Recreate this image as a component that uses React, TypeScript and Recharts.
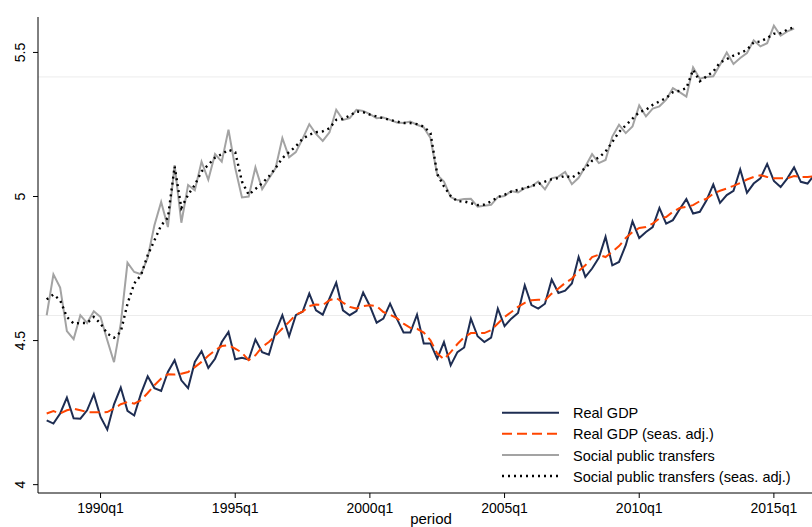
import { Legend, Line, LineChart, ReferenceLine, XAxis, YAxis } from 'recharts';

/* Quarterly log series, 1988q1 onwards. */
const START_YEAR = 1988;

const REAL_GDP = [
  4.223, 4.212, 4.247, 4.302, 4.23, 4.229, 4.258, 4.314, 4.235, 4.191,
  4.279, 4.337, 4.256, 4.24, 4.316, 4.376, 4.335, 4.325, 4.391, 4.432,
  4.362, 4.335, 4.426, 4.463, 4.405, 4.437, 4.495, 4.53, 4.435, 4.44,
  4.434, 4.504, 4.46, 4.451, 4.53, 4.588, 4.515, 4.588, 4.6, 4.663,
  4.605, 4.59, 4.646, 4.701, 4.605, 4.588, 4.602, 4.667, 4.62, 4.562,
  4.576, 4.628, 4.576, 4.528, 4.528, 4.59, 4.49, 4.49, 4.437, 4.495,
  4.414, 4.46, 4.476, 4.576, 4.515, 4.495, 4.51, 4.611, 4.55, 4.576,
  4.596, 4.692, 4.623, 4.611, 4.628, 4.712, 4.665, 4.673, 4.698, 4.79,
  4.721, 4.75, 4.787, 4.86, 4.761, 4.773, 4.831, 4.914, 4.856, 4.877,
  4.894, 4.96, 4.906, 4.918, 4.956, 4.991, 4.941, 4.947, 4.987, 5.042,
  4.978, 5.005, 5.02, 5.094, 5.013, 5.045, 5.063, 5.113, 5.054, 5.033,
  5.063, 5.101, 5.051, 5.045, 5.075,
];

const REAL_GDP_SA = [
  4.247, 4.255, 4.247, 4.258, 4.264, 4.258, 4.252, 4.251, 4.251, 4.252,
  4.264, 4.279, 4.287, 4.281, 4.293, 4.318, 4.345, 4.368, 4.383, 4.382,
  4.385, 4.391, 4.408, 4.426, 4.447, 4.466, 4.481, 4.484, 4.472, 4.458,
  4.432, 4.449, 4.478, 4.495, 4.518, 4.542, 4.565, 4.59, 4.6, 4.62,
  4.625, 4.623, 4.64, 4.648, 4.632, 4.617, 4.611, 4.62, 4.623, 4.62,
  4.599, 4.59, 4.578, 4.559, 4.544, 4.541, 4.528, 4.501, 4.455, 4.435,
  4.46, 4.488, 4.512, 4.526, 4.526, 4.526, 4.536, 4.559, 4.582, 4.599,
  4.617, 4.631, 4.64, 4.642, 4.64, 4.663, 4.681, 4.7, 4.715, 4.741,
  4.761, 4.79, 4.798, 4.79, 4.808, 4.828, 4.856, 4.877, 4.891, 4.894,
  4.906, 4.924, 4.929, 4.947, 4.96, 4.964, 4.97, 4.984, 4.992, 5.01,
  5.02, 5.028, 5.037, 5.047, 5.059, 5.068, 5.074, 5.068, 5.063, 5.063,
  5.063, 5.071, 5.068, 5.068, 5.07,
];

const SOCIAL = [
  4.588, 4.73, 4.684, 4.533, 4.505, 4.588, 4.561, 4.602, 4.582, 4.501,
  4.425, 4.559, 4.77, 4.738, 4.73, 4.788, 4.9, 4.981, 4.894, 5.109,
  4.909, 5.04, 5.022, 5.121, 5.058, 5.147, 5.121, 5.232, 5.099, 4.997,
  5.0, 5.101, 5.026, 5.063, 5.099, 5.203, 5.136, 5.154, 5.2, 5.251,
  5.217, 5.193, 5.223, 5.301, 5.266, 5.272, 5.301, 5.297, 5.286, 5.272,
  5.274, 5.266, 5.257, 5.255, 5.26, 5.249, 5.24, 5.203, 5.075, 5.052,
  4.998, 4.987, 4.991, 4.992, 4.965, 4.968, 4.971, 4.998, 5.002, 5.019,
  5.014, 5.029, 5.035, 5.052, 5.025, 5.063, 5.069, 5.085, 5.043, 5.065,
  5.104, 5.147, 5.116, 5.127, 5.208, 5.249, 5.22, 5.243, 5.316, 5.278,
  5.305, 5.313, 5.336, 5.376, 5.362, 5.347, 5.448, 5.409, 5.415, 5.417,
  5.457, 5.5, 5.46, 5.481, 5.498, 5.542, 5.521, 5.532, 5.593, 5.558,
  5.573, 5.583,
];

const SOCIAL_SA = [
  4.643, 4.66, 4.64, 4.582, 4.559, 4.561, 4.561, 4.582, 4.559, 4.524,
  4.51, 4.53, 4.628, 4.698, 4.727, 4.796, 4.848, 4.9, 4.926, 5.104,
  4.96, 5.006, 5.04, 5.087, 5.11, 5.135, 5.147, 5.162, 5.154, 5.052,
  5.006, 5.026, 5.046, 5.07, 5.099, 5.133, 5.154, 5.174, 5.2, 5.214,
  5.223, 5.226, 5.237, 5.266, 5.269, 5.281, 5.295, 5.293, 5.284, 5.278,
  5.272, 5.266, 5.26, 5.255, 5.255, 5.251, 5.243, 5.22, 5.078, 5.035,
  5.002, 4.983, 4.983, 4.977, 4.97, 4.972, 4.983, 4.998, 5.006, 5.017,
  5.023, 5.029, 5.037, 5.043, 5.052, 5.06, 5.064, 5.072, 5.065, 5.081,
  5.099, 5.124, 5.135, 5.156, 5.189, 5.224, 5.247, 5.27, 5.293, 5.301,
  5.318, 5.33, 5.342, 5.362, 5.367, 5.376, 5.44, 5.4, 5.417, 5.434,
  5.465, 5.477, 5.489, 5.498, 5.509, 5.535, 5.538, 5.55, 5.565, 5.567,
  5.579, 5.588,
];

const X_TICKS = [8, 28, 48, 68, 88, 108];
const Y_TICKS = [4, 4.5, 5, 5.5];
const GUIDE_LINES = [5.415, 4.587];

const FONT = '"Liberation Sans", Arial, Helvetica, sans-serif';

const SERIES = [
  { key: 'gdp', name: 'Real GDP', color: '#1e2d52', width: 2, dash: undefined },
  { key: 'gdpSa', name: 'Real GDP (seas. adj.)', color: '#ff4500', width: 2, dash: '10 5' },
  { key: 'social', name: 'Social public transfers', color: '#a3a3a3', width: 2, dash: undefined },
  { key: 'socialSa', name: 'Social public transfers (seas. adj.)', color: '#000000', width: 2.4, dash: '2 4' },
];

const periodLabel = (t: number) => `${START_YEAR + Math.floor(t / 4)}q${(t % 4) + 1}`;

const data = REAL_GDP.map((v, t) => ({
  t,
  period: periodLabel(t),
  gdp: v,
  gdpSa: REAL_GDP_SA[t],
  social: SOCIAL[t],
  socialSa: SOCIAL_SA[t],
}));

const YTick = ({ x, y, payload }: any) => (
  <text
    x={x - 8}
    y={y}
    transform={`rotate(-90, ${x - 8}, ${y})`}
    textAnchor="middle"
    fontSize={14}
    fontFamily={FONT}
    fill="#000"
  >
    {payload.value}
  </text>
);

const renderLegend = () => (
  <svg width={320} height={90} style={{ display: 'block' }}>
    {SERIES.map((s, k) => {
      const cy = 12.7 + k * 21.1;
      return (
        <g key={s.key}>
          <line x1={7} x2={64} y1={cy} y2={cy} stroke={s.color} strokeWidth={s.width} strokeDasharray={s.dash} />
          <text x={78} y={cy + 0.6} dy="0.35em" fontSize={14.5} fontFamily={FONT} fill="#000">
            {s.name}
          </text>
        </g>
      );
    })}
  </svg>
);

export default function App() {
  return (
    <div style={{ position: 'absolute', left: 0, top: 0, width: 812, height: 527, background: '#fff' }}>
      <LineChart width={812} height={527} data={data} margin={{ top: 17, right: 0, bottom: 0, left: 0 }}>
        <XAxis
          dataKey="t"
          type="number"
          domain={[-1.29, 113.66]}
          allowDataOverflow
          ticks={X_TICKS}
          tickFormatter={(t: number) => periodLabel(t)}
          height={34}
          tickSize={5}
          tickMargin={5}
          axisLine={{ stroke: '#000', strokeWidth: 1 }}
          tickLine={{ stroke: '#000' }}
          tick={{ fill: '#000', fontSize: 14, fontFamily: FONT }}
          label={{ value: 'period', position: 'insideBottom', offset: 3, dx: 6, fontSize: 15, fontFamily: FONT, fill: '#000' }}
        />
        <YAxis
          type="number"
          domain={[3.971, 5.623]}
          allowDataOverflow
          ticks={Y_TICKS}
          width={38}
          tickSize={5}
          tickMargin={0}
          axisLine={{ stroke: '#000', strokeWidth: 1 }}
          tickLine={{ stroke: '#000' }}
          tick={YTick}
        />
        {GUIDE_LINES.map((v) => (
          <ReferenceLine key={v} y={v} stroke="#ececec" strokeWidth={1} />
        ))}
        <Legend
          layout="vertical"
          align="center"
          verticalAlign="middle"
          content={renderLegend}
          wrapperStyle={{ left: 495, top: 400, width: 320, height: 90 }}
        />
        {SERIES.map((s) => (
          <Line
            key={s.key}
            type="linear"
            dataKey={s.key}
            name={s.name}
            stroke={s.color}
            strokeWidth={s.width}
            strokeDasharray={s.dash}
            dot={false}
            activeDot={false}
            isAnimationActive={false}
          />
        ))}
      </LineChart>
    </div>
  );
}
